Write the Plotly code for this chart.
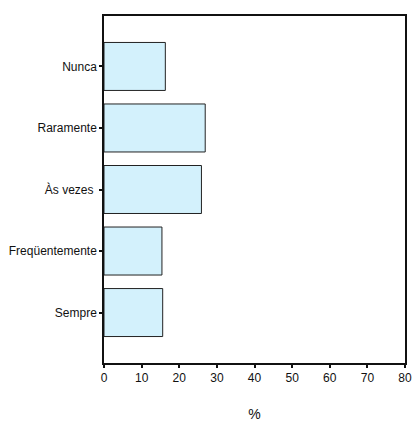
import plotly.graph_objects as go

categories = ["Sempre", "Freqüentemente", "Às vezes ", "Raramente", "Nunca"]
percent = [15.6, 15.4, 25.9, 26.9, 16.3]
x_ticks = [0, 10, 20, 30, 40, 50, 60, 70, 80]

fig = go.Figure(go.Bar(
    x=percent, y=categories, orientation="h",
    marker=dict(color="#D3F1FC", line=dict(color="#222222", width=1)),
    width=0.78,
))

fig.update_layout(
    width=412, height=422,
    margin=dict(l=104, r=7, t=16, b=59, autoexpand=False),
    plot_bgcolor="white", paper_bgcolor="white",
    font=dict(family="Liberation Sans, Arial", size=12, color="#111111"),
    showlegend=False,
    xaxis=dict(
        range=[0, 80], tickvals=x_ticks, showgrid=False, zeroline=False,
        showline=True, linecolor="#111111", linewidth=1.5, mirror=True,
        ticks="outside", ticklen=3, tickwidth=2, tickcolor="#111111",
        tickfont=dict(color="#111111"), automargin=False,
        title=dict(text="%", font=dict(size=14), standoff=25),
    ),
    yaxis=dict(
        type="category", categoryorder="array", categoryarray=categories,
        range=[-0.82, 4.82], showgrid=False, zeroline=False,
        showline=True, linecolor="#111111", linewidth=1.5, mirror=True,
        ticks="outside", ticklen=3, tickwidth=2, tickcolor="#111111",
        tickfont=dict(color="#111111"), automargin=False,
    ),
)

fig.write_html(
    "out.html",
    default_width="412px", default_height="422px",
    config={"displayModeBar": False},
    post_script="document.body.style.margin='0';document.body.style.overflow='hidden';",
)
